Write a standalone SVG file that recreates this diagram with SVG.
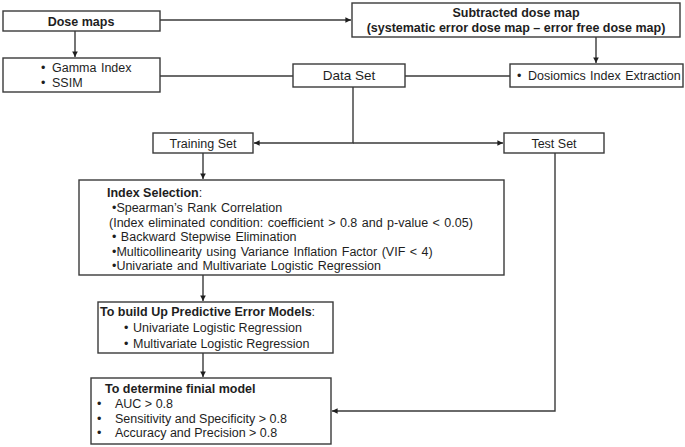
<svg xmlns="http://www.w3.org/2000/svg" width="685" height="447" viewBox="0 0 685 447">
<defs>
<style>
.box{fill:#fff;stroke:#3a3a3a;stroke-width:1.4}
.t{font-family:"Liberation Sans",Arial,sans-serif;font-size:12.5px;fill:#1e1e1e}
.b{font-weight:bold}
.c{text-anchor:middle}
.w{word-spacing:1px}
.ln{fill:none;stroke:#3a3a3a;stroke-width:1.4}
</style>
<marker id="ah" viewBox="0 0 6 6" refX="6" refY="3" markerWidth="4" markerHeight="4" orient="auto" markerUnits="strokeWidth">
<path d="M0,0 L6,3 L0,6 z" fill="#1e1e1e"/>
</marker>
</defs>
<rect width="685" height="447" fill="#fff"/>
<g id="connectors">
<path class="ln" d="M160,20 H351" marker-end="url(#ah)"/>
<path class="ln" d="M75,31 V57" marker-end="url(#ah)"/>
<path class="ln" d="M160,76 H293"/>
<path class="ln" d="M405,76 H510"/>
<path class="ln" d="M596,37 V63" marker-end="url(#ah)"/>
<path class="ln" d="M353,87 V143 H254" marker-end="url(#ah)"/>
<path class="ln" d="M353,143 H503" marker-end="url(#ah)"/>
<path class="ln" d="M203,153 V179" marker-end="url(#ah)"/>
<path class="ln" d="M203,275 V301" marker-end="url(#ah)"/>
<path class="ln" d="M203,353 V377" marker-end="url(#ah)"/>
<path class="ln" d="M555,153 V411 H332" marker-end="url(#ah)"/>
</g>
<g id="dose-maps">
<rect class="box" x="3" y="11" width="157" height="20"/>
<text class="t b c" x="81" y="26">Dose maps</text>
</g>
<g id="subtracted">
<rect class="box" x="352" y="3" width="328" height="34"/>
<text class="t b c" x="516" y="17">Subtracted dose map</text>
<text class="t b c" x="516" y="32">(systematic error dose map – error free dose map)</text>
</g>
<g id="gamma">
<rect class="box" x="3" y="58" width="157" height="34"/>
<text class="t" x="41" y="72">•</text>
<text class="t w" x="52" y="72">Gamma Index</text>
<text class="t" x="41" y="87">•</text>
<text class="t" x="52" y="87">SSIM</text>
</g>
<g id="data-set">
<rect class="box" x="293" y="64" width="112" height="23"/>
<text class="t c" x="349" y="80" style="font-size:13.5px">Data Set</text>
</g>
<g id="dosiomics">
<rect class="box" x="510" y="64" width="173" height="23"/>
<text class="t" x="517" y="80">•</text>
<text class="t w" x="528" y="80">Dosiomics Index Extraction</text>
</g>
<g id="training-set">
<rect class="box" x="153" y="133" width="100" height="20"/>
<text class="t c" x="203" y="148">Training Set</text>
</g>
<g id="test-set">
<rect class="box" x="504" y="133" width="100" height="20"/>
<text class="t c" x="554" y="148">Test Set</text>
</g>
<g id="index-selection">
<rect class="box" x="79" y="180" width="425" height="95"/>
<text class="t" x="107" y="197"><tspan class="b">Index Selection</tspan>:</text>
<text class="t w" x="112" y="212">•Spearman’s Rank Correlation</text>
<text class="t w" x="109" y="227">(Index eliminated condition: coefficient &gt; 0.8 and p-value &lt; 0.05)</text>
<text class="t w" x="112" y="241">• Backward Stepwise Elimination</text>
<text class="t w" x="112" y="256">•Multicollinearity using Variance Inflation Factor (VIF &lt; 4)</text>
<text class="t w" x="112" y="270">•Univariate and Multivariate Logistic Regression</text>
</g>
<g id="build-up">
<rect class="box" x="98" y="302" width="235" height="51"/>
<text class="t" x="100" y="316"><tspan class="b">To build Up Predictive Error Models</tspan>:</text>
<text class="t" x="124" y="332">•</text>
<text class="t" x="133" y="332">Univariate Logistic Regression</text>
<text class="t" x="124" y="348">•</text>
<text class="t" x="133" y="348">Multivariate Logistic Regression</text>
</g>
<g id="final-model">
<rect class="box" x="91" y="378" width="240" height="66"/>
<text class="t b" x="105" y="393">To determine finial model</text>
<text class="t" x="97" y="408">•</text>
<text class="t" x="115" y="408">AUC &gt; 0.8</text>
<text class="t" x="97" y="423">•</text>
<text class="t" x="115" y="423">Sensitivity and Specificity &gt; 0.8</text>
<text class="t" x="97" y="437">•</text>
<text class="t" x="115" y="437">Accuracy and Precision &gt; 0.8</text>
</g>
</svg>
